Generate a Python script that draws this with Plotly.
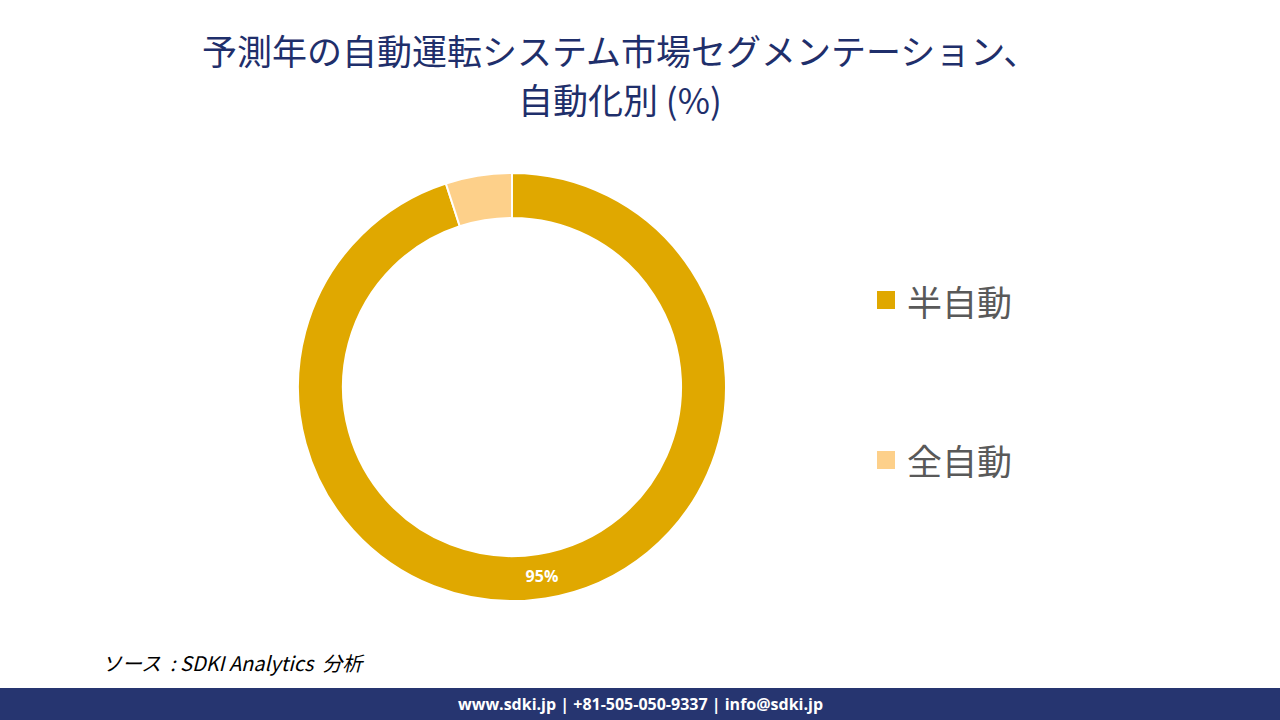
import plotly.graph_objects as go

labels = ["半自動", "全自動"]
values = [95, 5]
colors = ["#E0A800", "#FDD08A"]
shown_text = ["<b>95%</b>", ""]

W, H = 1280, 720
fig = go.Figure()
fig.add_trace(go.Pie(
    labels=labels, values=values, hole=0.79, sort=False, direction="clockwise", rotation=0,
    marker=dict(colors=colors, line=dict(color="white", width=2)),
    text=shown_text, texttemplate="%{text}", textposition="inside", insidetextorientation="horizontal",
    textfont=dict(family="Open Sans", size=16, color="white"),
    domain=dict(x=[(512-214)/W, (512+214)/W], y=[1-601/H, 1-173/H]),
    showlegend=False, hoverinfo="label+percent",
))

shapes = []
annotations = []
leg_y = [300, 460]
for lab, col, yy in zip(labels, colors, leg_y):
    shapes.append(dict(type="rect", xref="paper", yref="paper",
                       x0=877/W, x1=895/W, y0=1-(yy+9)/H, y1=1-(yy-9)/H,
                       fillcolor=col, line=dict(width=0)))
    annotations.append(dict(text=lab, xref="paper", yref="paper", x=905/W, y=1-yy/H,
                            xanchor="left", yanchor="middle", showarrow=False,
                            font=dict(family="Noto Sans CJK JP", size=35, color="#595959")))

# footer bar
shapes.append(dict(type="rect", xref="paper", yref="paper", x0=0, x1=1, y0=0, y1=1-688/H,
                   fillcolor="#263570", line=dict(width=0), layer="below"))
annotations.append(dict(text="<b>www.sdki.jp | +81-505-050-9337 | info@sdki.jp</b>", xref="paper", yref="paper",
                        x=640/W, y=1-704/H, xanchor="center", yanchor="middle", showarrow=False,
                        font=dict(family="Open Sans", size=16, color="white")))
annotations.append(dict(text="<i>ソース  : SDKI Analytics  分析</i>", xref="paper", yref="paper",
                        x=100/W, y=1-662/H, xanchor="left", yanchor="middle", showarrow=False,
                        font=dict(family="Noto Sans CJK JP", size=20, color="black")))
title_lines = ["予測年の自動運転システム市場セグメンテーション、", "自動化別 (%)"]
for line, yy in zip(title_lines, [50, 99]):
    annotations.append(dict(text=line, xref="paper", yref="paper",
                            x=620/W, y=1-yy/H, xanchor="center", yanchor="middle", showarrow=False,
                            borderpad=0,
                            font=dict(family="Noto Sans CJK JP", size=35, color="#1F2F6B")))

fig.update_layout(width=W, height=H, margin=dict(l=0, r=0, t=0, b=0),
                  paper_bgcolor="white", plot_bgcolor="white",
                  shapes=shapes, annotations=annotations)
fig.write_html("out.html")
